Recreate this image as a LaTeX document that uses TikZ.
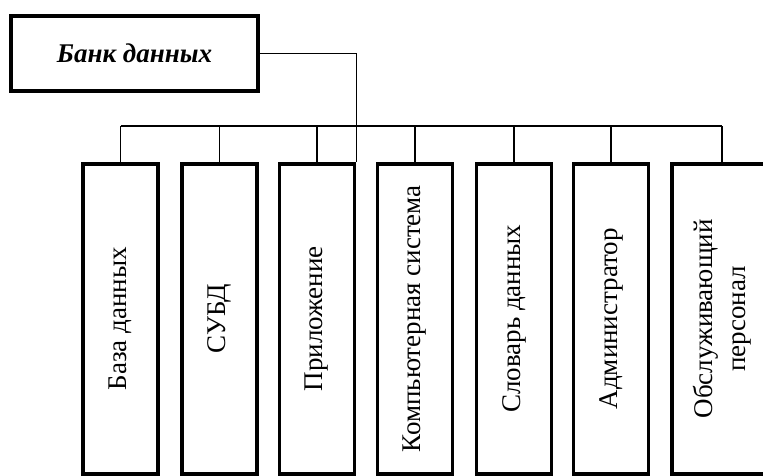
\documentclass[tikz,border=0pt]{standalone}
\usepackage{fontspec}
\setmainfont{Liberation Serif}
\begin{document}
\begin{tikzpicture}[x=1pt,y=1pt,
  part/.style={draw, line width=3.5pt, rotate=90, anchor=east, minimum width=310pt,
    minimum height=75pt, inner sep=0pt, align=center,
    font=\fontsize{27}{33}\selectfont},
  headbox/.style={draw, line width=3.5pt, minimum width=247pt, minimum height=75pt,
    inner sep=0pt, font=\fontsize{27}{33}\selectfont\bfseries\itshape},
  wire/.style={line width=1.3pt}]
\useasboundingbox (0,0) rectangle (763,475);
\node[headbox] (top) at (134.5,421.5) {Банк данных};
\node[part] (b1) at (120.5,313) {База данных};
\node[part] (b2) at (219.5,313) {СУБД};
\node[part] (b3) at (317,313) {Приложение};
\node[part] (b4) at (415,313) {Компьютерная система};
\node[part] (b5) at (514,313) {Словарь данных};
\node[part] (b6) at (611,313) {Администратор};
\node[part, minimum height=100pt] (b7) at (722,313) {Обслуживающий\\персонал};
\draw[wire] (top.east) -| (b3.south east);
\draw[wire] ([yshift=36pt]b1.east) -- ([yshift=36pt]b7.east);
\foreach \b in {b1,b2,b3,b4,b5,b6,b7}
  \draw[wire] (\b.east) -- ++(0,36);
\end{tikzpicture}
\end{document}
